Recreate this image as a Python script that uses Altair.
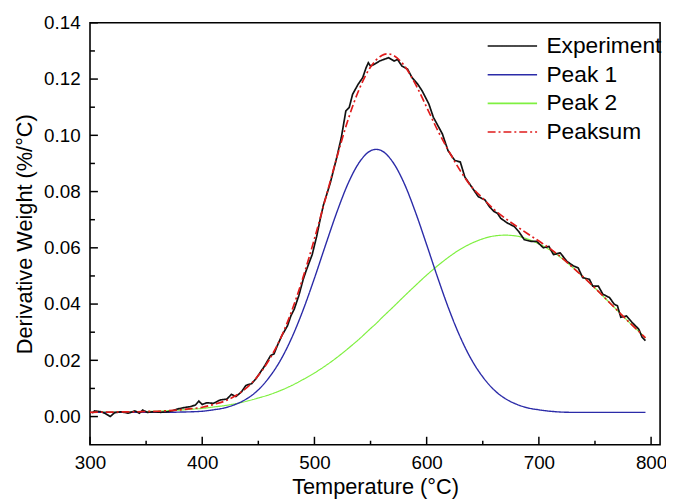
import altair as alt
import pandas as pd

# ---- data ----
T_fit = [300, 310, 320, 330, 340, 350, 360, 370, 380, 390, 400, 410, 420, 430, 440,
         450, 460, 470, 480, 490, 500, 510, 520, 530, 540, 550, 555, 560, 565, 570,
         580, 590, 600, 610, 620, 630, 640, 650, 660, 670, 680, 690, 700, 710, 720,
         730, 740, 750, 760, 770, 780, 790, 795]

peak1 = [.0015, .0015, .0015, .0015, .0015, .0015, .0015, .0015, .0016, .0017, .0019, .0024,
         .0031, .0044, .0064, .0095, .0141, .0202, .0282, .0380, .0492, .0611, .0727, .0829,
         .0904, .0945, .0950, .0945, .0929, .0904, .0829, .0727, .0611, .0492, .0380, .0282,
         .0202, .0141, .0095, .0064, .0044, .0031, .0024, .0019, .0016, .0015, .0015, .0015,
         .0015, .0015, .0015, .0015, .0015]

peak2 = [.0015, .0016, .0016, .0017, .0017, .0018, .0019, .0021, .0023, .0026, .0029, .0034,
         .0039, .0046, .0055, .0066, .0078, .0093, .0111, .0132, .0155, .0181, .0210, .0242,
         .0276, .0313, .0331, .0351, .0370, .0389, .0428, .0466, .0503, .0537, .0568, .0595,
         .0616, .0632, .0642, .0645, .0642, .0631, .0614, .0592, .0564, .0531, .0495, .0457,
         .0417, .0377, .0337, .0299, .0280]

peaksum = [.0015, .0016, .0016, .0017, .0017, .0018, .0019, .0021, .0024, .0028, .0033, .0043,
           .0055, .0075, .0104, .0146, .0204, .0280, .0378, .0497, .0632, .0777, .0922, .1056,
           .1165, .1243, .1268, .1284, .1290, .1285, .1248, .1182, .1100, .1016, .0942, .0874,
           .0817, .0776, .0737, .0705, .0677, .0650, .0624, .0597, .0566, .0531, .0495, .0457,
           .0417, .0377, .0337, .0299, .0280]

exp_T = [302, 304, 310, 314, 318, 322, 328, 334, 340, 344, 347, 351, 357, 363, 369, 373,
         378, 384, 389, 394, 397, 400, 404, 410, 416, 422, 426, 430, 435, 439, 444, 448,
         452, 455, 461, 464, 467, 471, 476, 479, 482, 486, 490, 493, 498, 502, 505, 508,
         514, 520, 524, 528, 531, 534, 539, 543, 546, 548, 550, 553, 558, 562, 566, 571,
         574, 578, 583, 587, 592, 596, 602, 606, 614, 619, 625, 630, 634, 640, 646, 652,
         656, 660, 663, 666, 672, 678, 682, 687, 693, 698, 704, 709, 713, 719, 725, 731,
         735, 739, 745, 748, 753, 757, 763, 767, 770, 773, 778, 783, 789, 792, 795]

exp_V = [.0012, .0020, .0017, .0010, .0000, .0014, .0017, .0012, .0020, .0012, .0023, .0015,
         .0017, .0015, .0017, .0020, .0027, .0032, .0035, .0041, .0055, .0043, .0049, .0047,
         .0059, .0062, .0079, .0071, .0088, .0111, .0117, .0135, .0159, .0176, .0217, .0223,
         .0253, .0288, .0323, .0358, .0382, .0429, .0488, .0523, .0576, .0641, .0699, .0752,
         .0829, .0923, .0993, .1087, .1099, .1146, .1182, .1205, .1240, .1258, .1246, .1252,
         .1264, .1270, .1276, .1264, .1270, .1246, .1235, .1205, .1182, .1158, .1111, .1064,
         .1005, .0946, .0911, .0905, .0852, .0817, .0782, .0770, .0746, .0729, .0723, .0705,
         .0688, .0676, .0658, .0629, .0623, .0623, .0600, .0605, .0576, .0582, .0552, .0535,
         .0529, .0494, .0488, .0464, .0464, .0435, .0423, .0400, .0394, .0353, .0358, .0335,
         .0311, .0282, .0270]

series_names = ["Experiment", "Peak 1", "Peak 2", "Peaksum"]
series_colors = ["#111111", "#2b2ba8", "#7ff040", "#e01b1b"]
series_dash = [[1, 0], [1, 0], [1, 0], [8, 3, 2, 3]]

x_major = [300, 400, 500, 600, 700, 800]
x_minor = [350, 450, 550, 650, 750]
y_major = [0.00, 0.02, 0.04, 0.06, 0.08, 0.10, 0.12, 0.14]
y_minor = [0.01, 0.03, 0.05, 0.07, 0.09, 0.11, 0.13]

W, H = 577, 427
FONT = "Liberation Sans"

df_exp = pd.DataFrame({"T": exp_T, "V": exp_V, "series": "Experiment"})
df_p1 = pd.DataFrame({"T": T_fit, "V": peak1, "series": "Peak 1"})
df_p2 = pd.DataFrame({"T": T_fit, "V": peak2, "series": "Peak 2"})
df_ps = pd.DataFrame({"T": T_fit, "V": peaksum, "series": "Peaksum"})

xscale = alt.Scale(domain=[300, 808], nice=False, zero=False)
yscale = alt.Scale(domain=[-0.01, 0.14], nice=False, zero=False)

x_enc = alt.X("T:Q", scale=xscale, axis=alt.Axis(
    values=x_major, ticks=False, domain=False, grid=False, labelFlush=False,
    labelFontSize=19, labelFont=FONT, labelColor="black", labelPadding=9,
    title="Temperature (°C)", titleFontSize=22, titleFont=FONT, titleFontWeight="normal",
    titleColor="black", titlePadding=4))
y_enc = alt.Y("V:Q", scale=yscale, axis=alt.Axis(
    values=y_major, format=".2f", ticks=False, domain=False, grid=False,
    labelFontSize=19, labelFont=FONT, labelColor="black", labelPadding=10,
    title="Derivative Weight (%/°C)", titleFontSize=22, titleFont=FONT,
    titleFontWeight="normal", titleColor="black", titlePadding=7))

legend = alt.Legend(title=None, orient="none", legendX=436, legendY=12,
                    symbolType="M-9,0H1", symbolSize=100, symbolStrokeWidth=1.6,
                    labelFontSize=23, labelFont=FONT, labelColor="black",
                    labelOffset=3, rowPadding=5, padding=0)
color_enc = alt.Color("series:N", scale=alt.Scale(domain=series_names, range=series_colors),
                      legend=legend)
dash_enc = alt.StrokeDash("series:N", scale=alt.Scale(domain=series_names, range=series_dash),
                          legend=legend)


def line(df, width, interp):
    return alt.Chart(df).mark_line(strokeWidth=width, interpolate=interp, clip=True).encode(
        x=x_enc, y=y_enc, color=color_enc, strokeDash=dash_enc)


l_p2 = line(df_p2, 1.2, "monotone")
l_p1 = line(df_p1, 1.4, "monotone")
l_exp = line(df_exp, 1.7, "linear")
l_ps = line(df_ps, 1.7, "monotone")

tick_style = dict(color="black", strokeWidth=1.5)
xt_major = alt.Chart(pd.DataFrame({"T": x_major})).mark_rule(**tick_style).encode(
    x=alt.X("T:Q", scale=xscale), y=alt.value(H), y2=alt.value(H - 8))
xt_minor = alt.Chart(pd.DataFrame({"T": x_minor})).mark_rule(**tick_style).encode(
    x=alt.X("T:Q", scale=xscale), y=alt.value(H), y2=alt.value(H - 4))
yt_major = alt.Chart(pd.DataFrame({"V": y_major})).mark_rule(**tick_style).encode(
    y=alt.Y("V:Q", scale=yscale), x=alt.value(0), x2=alt.value(8))
yt_minor = alt.Chart(pd.DataFrame({"V": y_minor})).mark_rule(**tick_style).encode(
    y=alt.Y("V:Q", scale=yscale), x=alt.value(0), x2=alt.value(5))

chart = alt.layer(l_p2, l_p1, l_exp, l_ps, xt_major, xt_minor, yt_major, yt_minor).properties(
    width=W, height=H,
    padding={"left": 83, "top": 12, "right": 6, "bottom": 55},
    autosize=alt.AutoSizeParams(type="none"),
    background="white",
).configure_view(stroke="black", strokeWidth=1.6)

chart.save("out.html", embed_options={"renderer": "svg", "actions": False})
